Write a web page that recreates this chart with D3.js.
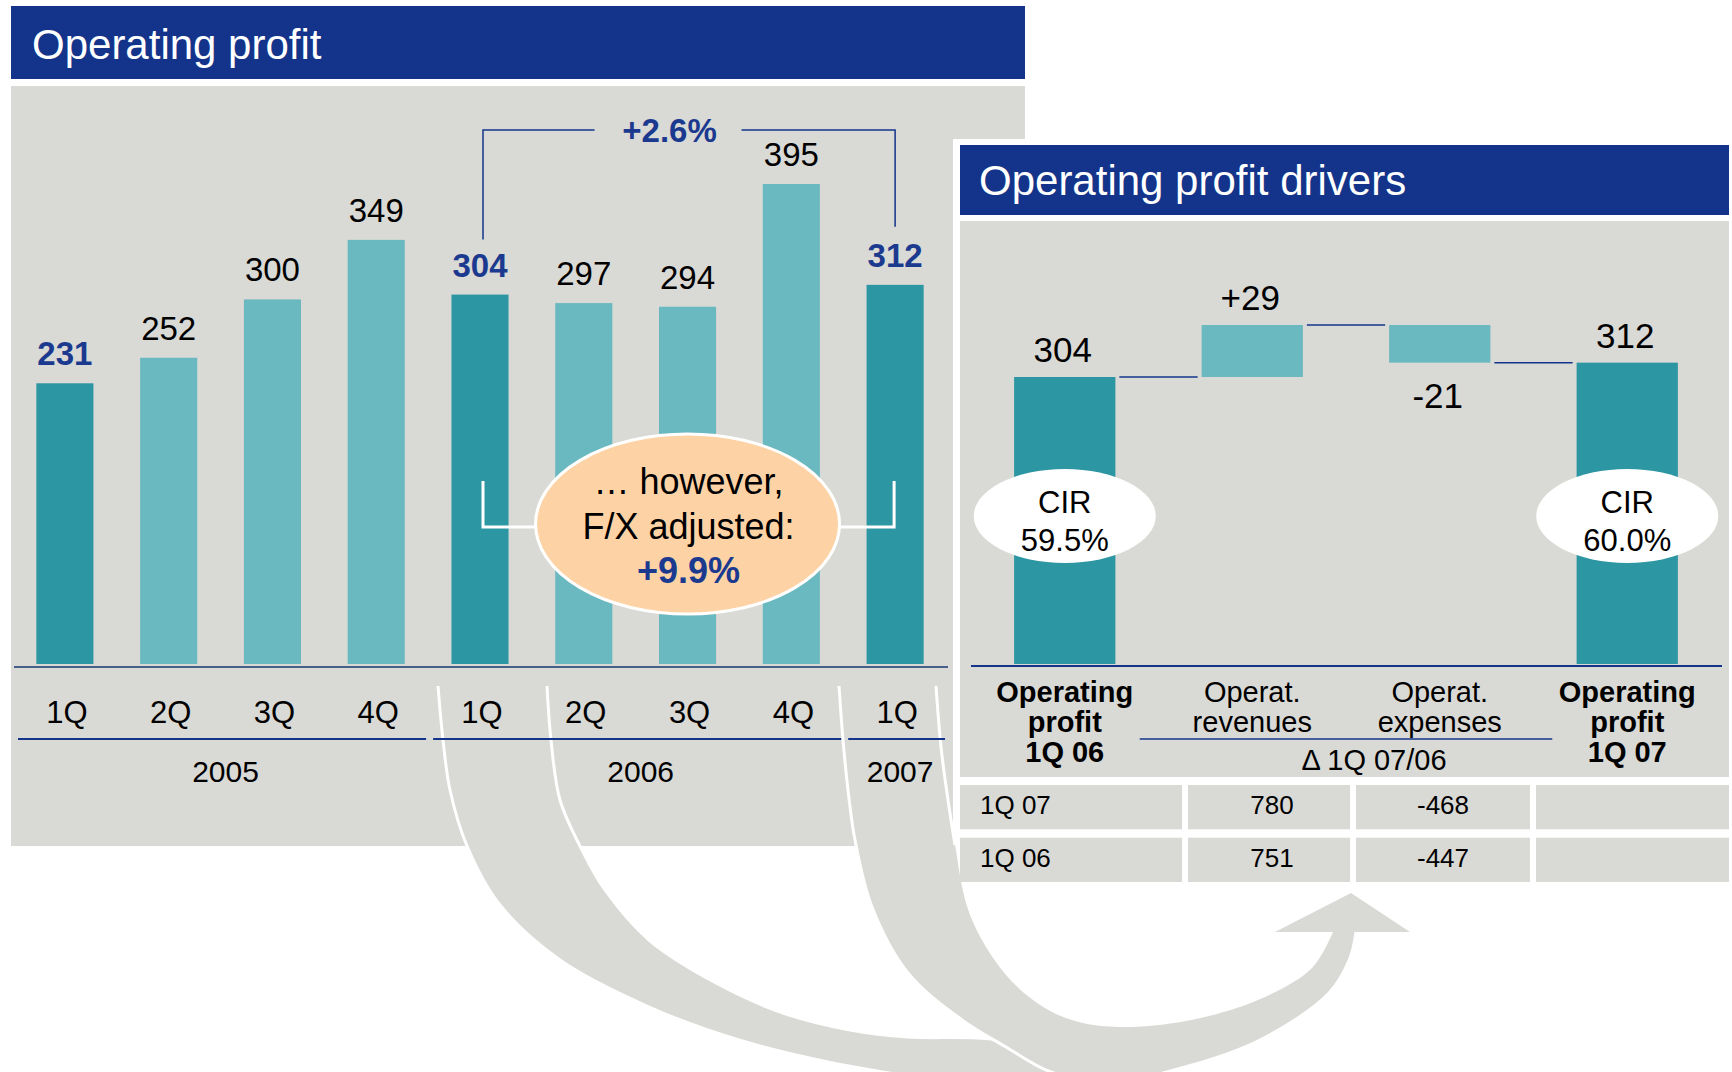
<!DOCTYPE html>
<html>
<head>
<meta charset="utf-8">
<script src="https://cdn.jsdelivr.net/npm/d3@7"></script>
<style>
  body { margin: 0; background: #fff; }
  svg { display: block; font-family: "Liberation Sans", Arial, sans-serif; }
</style>
</head>
<body>
<div id="chart"></div>
<script>
// ---- data ----
const quarters = ["1Q", "2Q", "3Q", "4Q", "1Q", "2Q", "3Q", "4Q", "1Q"];
const quarterYears = ["2005", "2005", "2005", "2005", "2006", "2006", "2006", "2006", "2007"];
const years = ["2005", "2006", "2007"];
const profit = [231, 252, 300, 349, 304, 297, 294, 395, 312];
const reportedGrowth = "+2.6%";
const fxNote = ["\u2026 however,", "F/X adjusted:"];
const fxGrowth = "+9.9%";

const driverNames = [["Operating", "profit", "1Q 06"], ["Operat.", "revenues"], ["Operat.", "expenses"], ["Operating", "profit", "1Q 07"]];
const driverValues = [304, 29, -21, 312];
const driverKinds = ["total", "delta", "delta", "total"];
const cirLabels = ["59.5%", null, null, "60.0%"];
const deltaCaption = "\u0394 1Q 07/06";
const tableRows = ["1Q 07", "1Q 06"];
const revenues = [780, 751];
const expenses = [-468, -447];

// ---- colours ----
const navy = "#13348a";
const panelGray = "#d9d9d5";
const teal = "#2c96a3";
const lightTeal = "#6ab8c0";
const blueText = "#1b3a8f";
const peach = "#fdd3a6";

const W = 1732, H = 1072;
const svg = d3.select("#chart").append("svg")
  .attr("width", W)
  .attr("height", H);

// ===== left panel: operating profit =====
svg.append("rect").attr("x", 11).attr("y", 6).attr("width", 1014).attr("height", 73).attr("fill", navy);
svg.append("text").attr("x", 32).attr("y", 59).attr("fill", "#fff").style("font-size", "42px").text("Operating profit");
svg.append("rect").attr("x", 11).attr("y", 86).attr("width", 1014).attr("height", 760).attr("fill", panelGray);

const x = d3.scaleBand().domain(d3.range(profit.length)).range([13, 947]).paddingInner(0.45).paddingOuter(0.225);
const y = d3.scaleLinear().domain([0, 395]).range([664, 184]);
const cx = i => x(i) + x.bandwidth() / 2;
const isFirst = i => quarters[i] === "1Q";

svg.append("g")
  .selectAll("rect")
  .data(profit)
  .join("rect")
  .attr("x", (d, i) => x(i))
  .attr("y", d => y(d))
  .attr("width", x.bandwidth())
  .attr("height", d => y(0) - y(d))
  .attr("fill", (d, i) => isFirst(i) ? teal : lightTeal);

svg.append("g")
  .selectAll("text")
  .data(profit)
  .join("text")
  .attr("x", (d, i) => cx(i))
  .attr("y", d => y(d) - 18)
  .attr("text-anchor", "middle")
  .style("font-size", "33px")
  .style("font-weight", (d, i) => isFirst(i) ? "bold" : "normal")
  .attr("fill", (d, i) => isFirst(i) ? blueText : "#000")
  .text(d => d);

// axis line
svg.append("line").attr("x1", 14).attr("x2", 948).attr("y1", 667).attr("y2", 667)
  .attr("stroke", "#46608a").attr("stroke-width", 2);

// +2.6% bracket (1Q 06 -> 1Q 07)
const iA = 4, iB = 8;
const growthX = (cx(iA) + cx(iB)) / 2 - 18;
svg.append("path")
  .attr("d", `M${cx(iA) + 3},${y(profit[iA]) - 55}V130H${growthX - 75}M${growthX + 72},130H${cx(iB)}V${y(profit[iB]) - 58}`)
  .attr("fill", "none").attr("stroke", navy).attr("stroke-width", 1.5);
svg.append("text").attr("x", growthX).attr("y", 142).attr("text-anchor", "middle")
  .style("font-size", "33px").style("font-weight", "bold").attr("fill", blueText).text(reportedGrowth);

// F/X adjusted bubble
const ex = (cx(iA) + cx(iB)) / 2, ey = 524, erx = 152, ery = 90;
svg.append("path")
  .attr("d", `M${cx(iA) + 3},481V527H${ex - erx}M${ex + erx},527H${cx(iB) - 1}V481`)
  .attr("fill", "none").attr("stroke", "#fff").attr("stroke-width", 3);
svg.append("ellipse").attr("cx", ex).attr("cy", ey).attr("rx", erx).attr("ry", ery)
  .attr("fill", peach).attr("stroke", "#fff").attr("stroke-width", 3);
svg.append("g")
  .selectAll("text")
  .data(fxNote.concat([fxGrowth]))
  .join("text")
  .attr("x", ex + 1)
  .attr("y", (d, i) => 494 + i * 44.5)
  .attr("text-anchor", "middle")
  .style("font-size", "36px")
  .style("font-weight", (d, i) => i === 2 ? "bold" : "normal")
  .attr("fill", (d, i) => i === 2 ? blueText : "#000")
  .text(d => d);

// ===== right panel: operating profit drivers =====
svg.append("rect").attr("x", 953).attr("y", 139).attr("width", W - 953).attr("height", 749).attr("fill", "#fff");
svg.append("rect").attr("x", 960).attr("y", 145).attr("width", 769).attr("height", 70).attr("fill", navy);
svg.append("text").attr("x", 979).attr("y", 195).attr("fill", "#fff").style("font-size", "42px").text("Operating profit drivers");
svg.append("rect").attr("x", 960).attr("y", 221).attr("width", 769).attr("height", 556).attr("fill", panelGray);

const wx = d3.scaleBand().domain(d3.range(driverValues.length)).range([971, 1721]).paddingInner(0.46).paddingOuter(0.23);
const wy = d3.scaleLinear().domain([304, 333]).range([377, 325]);
const wBase = 664;
const wcx = i => wx(i) + wx.bandwidth() / 2;

let running = 0;
const steps = driverValues.map((v, i) => {
  let s;
  if (driverKinds[i] === "total") {
    s = { top: wy(v), bottom: wBase, end: v, v, kind: "total" };
  } else {
    const next = running + v;
    s = { top: wy(Math.max(running, next)), bottom: wy(Math.min(running, next)), end: next, v, kind: "delta" };
  }
  running = s.end;
  return s;
});

svg.append("g")
  .selectAll("rect")
  .data(steps)
  .join("rect")
  .attr("x", (d, i) => wx(i))
  .attr("y", d => d.top)
  .attr("width", wx.bandwidth())
  .attr("height", d => d.bottom - d.top)
  .attr("fill", d => d.kind === "total" ? teal : lightTeal);

// connectors
svg.append("g")
  .selectAll("line")
  .data(steps.slice(0, -1))
  .join("line")
  .attr("x1", (d, i) => wx(i) + wx.bandwidth() + 4)
  .attr("x2", (d, i) => wx(i + 1) - 4)
  .attr("y1", d => wy(d.end))
  .attr("y2", d => wy(d.end))
  .attr("stroke", navy).attr("stroke-width", 1.5);

svg.append("g")
  .selectAll("text")
  .data(steps)
  .join("text")
  .attr("x", (d, i) => wcx(i) - 2)
  .attr("y", d => d.v < 0 ? d.bottom + 45 : d.top - 15)
  .attr("text-anchor", "middle")
  .style("font-size", "35px")
  .text(d => d.kind === "delta" && d.v > 0 ? "+" + d.v : String(d.v));

// CIR bubbles
const cirG = svg.append("g")
  .selectAll("g")
  .data(cirLabels.map((c, i) => ({ c, i })).filter(d => d.c))
  .join("g");
cirG.append("ellipse").attr("cx", d => wcx(d.i)).attr("cy", 516).attr("rx", 91).attr("ry", 47).attr("fill", "#fff");
cirG.append("text").attr("x", d => wcx(d.i)).attr("y", 513).attr("text-anchor", "middle").style("font-size", "31px").text("CIR");
cirG.append("text").attr("x", d => wcx(d.i)).attr("y", 551).attr("text-anchor", "middle").style("font-size", "31px").text(d => d.c);

svg.append("line").attr("x1", 971).attr("x2", 1722).attr("y1", 666).attr("y2", 666)
  .attr("stroke", navy).attr("stroke-width", 2);

// category labels
driverNames.forEach((lines, i) => {
  svg.append("text")
    .attr("text-anchor", "middle")
    .style("font-size", "29px")
    .style("font-weight", driverKinds[i] === "total" ? "bold" : "normal")
    .selectAll("tspan")
    .data(lines)
    .join("tspan")
    .attr("x", wcx(i))
    .attr("y", (d, j) => 702 + j * 30)
    .text(d => d);
});

const dStep = wx.step();
svg.append("line")
  .attr("x1", wcx(1) - 0.6 * dStep).attr("x2", wcx(2) + 0.6 * dStep)
  .attr("y1", 739).attr("y2", 739)
  .attr("stroke", navy).attr("stroke-width", 1.5);
svg.append("text").attr("x", (wcx(1) + wcx(2)) / 2 + 28).attr("y", 770)
  .attr("text-anchor", "middle").style("font-size", "29px").text(deltaCaption);

// table
const colEdges = [[960, 1182], [1188, 1350], [1356, 1530], [1536, 1729]];
const rowY = d3.scaleBand().domain(tableRows).range([785, 882]).paddingInner(0.16);
tableRows.forEach((r, ri) => {
  colEdges.forEach(([a, b]) => {
    svg.append("rect").attr("x", a).attr("y", rowY(r)).attr("width", b - a).attr("height", rowY.bandwidth()).attr("fill", panelGray);
  });
  const ty = rowY(r) + 29;
  svg.append("text").attr("x", 980).attr("y", ty).style("font-size", "26px").text(r);
  svg.append("text").attr("x", (colEdges[1][0] + colEdges[1][1]) / 2 + 3).attr("y", ty)
    .attr("text-anchor", "middle").style("font-size", "26px").text(revenues[ri]);
  svg.append("text").attr("x", (colEdges[2][0] + colEdges[2][1]) / 2).attr("y", ty)
    .attr("text-anchor", "middle").style("font-size", "26px").text(expenses[ri]);
});

// ===== curved arrows linking the two panels =====
const edge = d3.line().curve(d3.curveCatmullRom);
const shape = (outer, head, inner) => {
  let d = edge(outer);
  head.forEach(p => { d += "L" + p[0] + "," + p[1]; });
  d += "L" + edge(inner).slice(1) + "Z";
  return d;
};

const aOuter = [[438, 686], [443, 740], [450, 790], [467, 846], [500, 905], [560, 960], [649, 1007], [739, 1040], [828, 1062], [895, 1074], [980, 1090], [1080, 1100]];
const aInner = [[547, 686], [551, 740], [560, 800], [582, 850], [605, 890], [649, 940], [716, 983], [783, 1013], [850, 1030], [908, 1037], [977, 1038], [1060, 1045]];
const bOuter = [[839, 686], [843, 740], [848, 790], [855, 840], [872, 907], [908, 973], [962, 1020], [1006, 1047], [1051, 1072], [1110, 1082], [1185, 1067], [1260, 1040], [1329, 993], [1350, 958], [1356, 932]];
const bHead = [[1410, 932], [1351, 893], [1275, 932]];
const bInner = [[1333, 932], [1312, 968], [1258, 1000], [1186, 1021], [1120, 1027], [1079, 1022], [1045, 1008], [1006, 975], [970, 915], [955, 845], [948, 800], [941, 747], [936, 686]];

const arrows = svg.append("g");
arrows.append("path").attr("d", shape(aOuter, [], aInner.slice().reverse())).attr("fill", panelGray);
arrows.append("path").attr("d", edge(aOuter)).attr("fill", "none").attr("stroke", "#fff").attr("stroke-width", 3);
arrows.append("path").attr("d", edge(aInner)).attr("fill", "none").attr("stroke", "#fff").attr("stroke-width", 3);
arrows.append("path").attr("d", shape(bOuter, bHead, bInner)).attr("fill", panelGray);
arrows.append("path").attr("d", edge(bOuter)).attr("fill", "none").attr("stroke", "#fff").attr("stroke-width", 3);
arrows.append("path").attr("d", edge(bInner.filter(p => p[1] < 860))).attr("fill", "none").attr("stroke", "#fff").attr("stroke-width", 3);

// ===== quarter / year labels (on top of arrows) =====
svg.append("g")
  .selectAll("text")
  .data(quarters)
  .join("text")
  .attr("x", (d, i) => cx(i) + 2)
  .attr("y", 723)
  .attr("text-anchor", "middle")
  .style("font-size", "31px")
  .text(d => d);

const gap = x.step() - x.bandwidth();
const yearGroups = years.map(yr => {
  const idx = quarterYears.map((q, i) => q === yr ? i : -1).filter(i => i >= 0);
  const start = x(idx[0]) - gap / 2;
  const end = x(idx[idx.length - 1]) + x.bandwidth() + gap / 2;
  return { yr, start, end };
});

svg.append("g")
  .selectAll("line")
  .data(yearGroups)
  .join("line")
  .attr("x1", d => d.start + 5)
  .attr("x2", d => d.end - 2)
  .attr("y1", 739).attr("y2", 739)
  .attr("stroke", navy).attr("stroke-width", 2);

svg.append("g")
  .selectAll("text")
  .data(yearGroups)
  .join("text")
  .attr("x", d => (d.start + d.end) / 2 + 5)
  .attr("y", 782)
  .attr("text-anchor", "middle")
  .style("font-size", "30px")
  .text(d => d.yr);
</script>
</body>
</html>
